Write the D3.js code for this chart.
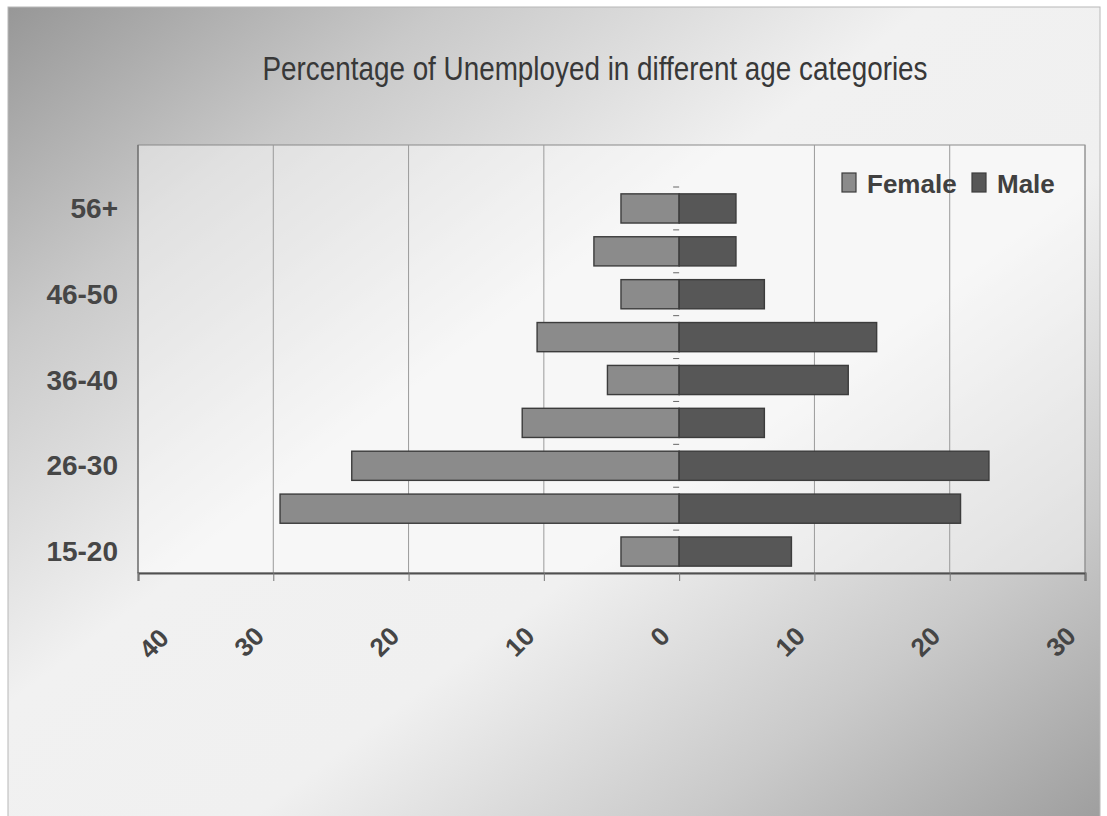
<!DOCTYPE html>
<html>
<head>
<meta charset="utf-8">
<script src="https://cdn.jsdelivr.net/npm/d3@7"></script>
<style>
  html, body { margin: 0; padding: 0; background: #ffffff; }
  svg { display: block; }
</style>
</head>
<body>
<svg id="chart" width="1107" height="816"></svg>
<script>
// Age groups, bottom to top
const categories = ["15-20", "21-25", "26-30", "31-35", "36-40", "41-45", "46-50", "51-55", "56+"];
// Percentage unemployed per group
const female = [4.3, 29.5, 24.2, 11.6, 5.3, 10.5, 4.3, 6.3, 4.3];
const male   = [8.3, 20.8, 22.9, 6.3, 12.5, 14.6, 6.3, 4.2, 4.2];
const xTicks = [-40, -30, -20, -10, 0, 10, 20, 30];
const titleText = "Percentage of Unemployed in different age categories";

const svg = d3.select("#chart");
const plot = { left: 138, right: 1085, top: 145, bottom: 573 };

// Background gradient of the chart area
const defs = svg.append("defs");
const bg = defs.append("linearGradient").attr("id", "bgGrad")
  .attr("x1", "0").attr("y1", "0").attr("x2", "1").attr("y2", "1");
[[0, "#979797"], [0.2, "#c9c9c9"], [0.42, "#f1f1f1"], [0.6, "#f0f0f0"], [0.8, "#cacaca"], [1, "#9c9c9c"]]
  .forEach(([o, c]) => bg.append("stop").attr("offset", o).attr("stop-color", c));

svg.append("rect").attr("x", 8).attr("y", 7).attr("width", 1092).attr("height", 830)
  .attr("fill", "url(#bgGrad)").attr("stroke", "#b8b8b8").attr("stroke-width", 1);

// Plot area
svg.append("rect")
  .attr("x", plot.left).attr("y", plot.top)
  .attr("width", plot.right - plot.left).attr("height", plot.bottom - plot.top)
  .attr("fill", "#ffffff").attr("fill-opacity", 0.45)
  .attr("stroke", "#8a8a8a").attr("stroke-width", 1);

const x = d3.scaleLinear().domain([-40, 30]).range([plot.left, plot.right]);
const y = d3.scaleBand().domain(categories).range([plot.bottom, 187]).paddingInner(0.32).paddingOuter(0.16);

// Vertical gridlines
svg.append("g").selectAll("line")
  .data(xTicks.filter(t => t !== 0 && t !== -40))
  .join("line")
  .attr("x1", d => x(d)).attr("x2", d => x(d))
  .attr("y1", plot.top).attr("y2", plot.bottom)
  .attr("stroke", "#9a9a9a").attr("stroke-width", 1);

// Bars
const barStroke = "#3c3c3c";
svg.append("g").selectAll("rect")
  .data(categories.map((c, i) => ({ c, v: female[i] })))
  .join("rect")
  .attr("x", d => x(-d.v)).attr("width", d => x(0) - x(-d.v))
  .attr("y", d => y(d.c)).attr("height", y.bandwidth())
  .attr("fill", "#8b8b8b").attr("stroke", barStroke).attr("stroke-width", 1.4);

svg.append("g").selectAll("rect")
  .data(categories.map((c, i) => ({ c, v: male[i] })))
  .join("rect")
  .attr("x", x(0)).attr("width", d => x(d.v) - x(0))
  .attr("y", d => y(d.c)).attr("height", y.bandwidth())
  .attr("fill", "#575757").attr("stroke", barStroke).attr("stroke-width", 1.4);

// Category tick marks along the zero line
const step = y.step();
const bounds = d3.range(categories.length + 1).map(i => plot.bottom - i * step);
svg.append("g").selectAll("line")
  .data(bounds.slice(1))
  .join("line")
  .attr("x1", x(0) - 6).attr("x2", x(0))
  .attr("y1", d => d).attr("y2", d => d)
  .attr("stroke", "#666").attr("stroke-width", 1);

// Left axis line
svg.append("line")
  .attr("x1", plot.left).attr("x2", plot.left)
  .attr("y1", plot.top).attr("y2", plot.bottom)
  .attr("stroke", "#6a6a6a").attr("stroke-width", 1.2);

// Bottom value axis
const xAxis = d3.axisBottom(x).tickValues(xTicks).tickSize(8).tickFormat(d => Math.abs(d));
const gx = svg.append("g").attr("transform", `translate(0,${plot.bottom})`).call(xAxis);
gx.select(".domain").attr("stroke", "#505050").attr("stroke-width", 2);
gx.selectAll(".tick line").attr("stroke", "#777").attr("stroke-width", 1);
gx.selectAll(".tick text")
  .attr("font-family", "'Liberation Sans', Arial, sans-serif")
  .attr("font-size", 26).attr("font-weight", "bold").attr("fill", "#454545")
  .attr("text-anchor", "end").attr("dy", null).attr("y", null)
  .attr("dominant-baseline", "middle")
  // the outermost label is nudged inward so it stays inside the chart
  .attr("transform", (d, i) => i === 0 ? "translate(27,62) rotate(-45)" : "translate(-13,60) rotate(-45)");

// Category labels (every other group)
svg.append("g").selectAll("text")
  .data(categories.filter((c, i) => i % 2 === 0))
  .join("text")
  .attr("x", 118).attr("y", d => y(d) + y.bandwidth() / 2)
  .attr("text-anchor", "end").attr("dominant-baseline", "central")
  .attr("font-family", "'Liberation Sans', Arial, sans-serif")
  .attr("font-size", 28).attr("font-weight", "bold").attr("fill", "#464646")
  .text(d => d);

// Title
svg.append("text")
  .attr("x", 595).attr("y", 80)
  .attr("text-anchor", "middle")
  .attr("font-family", "'Liberation Sans Narrow', 'Arial Narrow', 'Liberation Sans', sans-serif")
  .attr("font-size", 33).attr("fill", "#383838")
  .attr("textLength", 665).attr("lengthAdjust", "spacingAndGlyphs")
  .text(titleText);

// Legend
const legend = [{ name: "Female", color: "#8b8b8b", x: 842 }, { name: "Male", color: "#575757", x: 972 }];
const lg = svg.append("g");
lg.selectAll("rect").data(legend).join("rect")
  .attr("x", d => d.x).attr("y", 173).attr("width", 14).attr("height", 19)
  .attr("fill", d => d.color).attr("stroke", "#3c3c3c").attr("stroke-width", 1.2);
lg.selectAll("text").data(legend).join("text")
  .attr("x", d => d.x + 25).attr("y", 193)
  .attr("font-family", "'Liberation Sans', Arial, sans-serif")
  .attr("font-size", 26).attr("font-weight", "bold").attr("fill", "#404040")
  .text(d => d.name);
</script>
</body>
</html>
